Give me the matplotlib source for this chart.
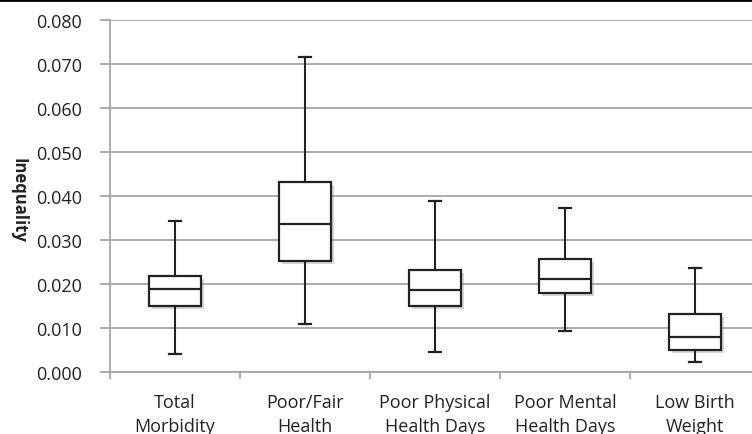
import matplotlib
matplotlib.use("Agg")
import matplotlib.pyplot as plt
import matplotlib.patheffects as pe
from matplotlib.lines import Line2D

# Values
categories = ["Total\nMorbidity", "Poor/Fair\nHealth", "Poor Physical\nHealth Days",
              "Poor Mental\nHealth Days", "Low Birth\nWeight"]
whisker_low = [0.0041, 0.0110, 0.0047, 0.0094, 0.0023]
q1 = [0.0151, 0.0253, 0.0151, 0.0180, 0.0051]
median = [0.0189, 0.0336, 0.0186, 0.0211, 0.0080]
q3 = [0.0218, 0.0432, 0.0233, 0.0258, 0.0132]
whisker_high = [0.0345, 0.0717, 0.0389, 0.0373, 0.0238]
yticks = [0.0, 0.01, 0.02, 0.03, 0.04, 0.05, 0.06, 0.07, 0.08]

plt.rcParams['font.family'] = ['Open Sans', 'DejaVu Sans']

fig = plt.figure(figsize=(7.52, 4.35), dpi=100)
ax = fig.add_axes([110 / 752, 61.7 / 435, 650 / 752, 352 / 435])

stats = []
for lo, a, m, b, hi in zip(whisker_low, q1, median, q3, whisker_high):
    stats.append({'whislo': lo, 'q1': a, 'med': m, 'q3': b, 'whishi': hi, 'fliers': []})

dark = '#222222'
art = ax.bxp(stats, positions=range(1, len(stats) + 1), widths=0.4, capwidths=0.095,
             patch_artist=True, showfliers=False,
             boxprops=dict(facecolor='white', edgecolor=dark, linewidth=1.6),
             medianprops=dict(color=dark, linewidth=1.6),
             whiskerprops=dict(color=dark, linewidth=1.5),
             capprops=dict(color=dark, linewidth=1.6))
for box in art['boxes']:
    box.set_path_effects([pe.SimplePatchShadow(offset=(2, -2), shadow_rgbFace='#888888', alpha=0.35),
                          pe.Normal()])
    box.set_zorder(3)
for key in ('medians', 'whiskers', 'caps'):
    for ln in art[key]:
        ln.set_zorder(4)

grid_c = '#a6a6a6'
ax.set_xlim(0.5, 5.5)
ax.set_ylim(0, 0.08)
ax.set_yticks(yticks)
ax.set_yticklabels([f"{v:.3f}" for v in yticks], fontsize=13, color='#222222')
ax.yaxis.grid(True, color=grid_c, linewidth=1.3)
ax.set_axisbelow(True)

ax.set_xticks([i + 0.5 for i in range(0, 6)], minor=False)
ax.set_xticklabels([])
ax.tick_params(axis='x', length=5, width=1.3, color=grid_c, direction='out')
ax.tick_params(axis='y', length=7, width=1.3, color=grid_c, pad=13)
for i, lab in enumerate(categories):
    ax.text(i + 1, -0.0047, lab, ha='center', va='top', fontsize=13, color='#222222',
            linespacing=1.45)

for s in ('top', 'right'):
    ax.spines[s].set_visible(False)
for s in ('left', 'bottom'):
    ax.spines[s].set_color(grid_c)
    ax.spines[s].set_linewidth(1.3)

fig.text(18 / 752, 1 - 200 / 435, "Inequality", rotation=270, ha='center', va='center',
         fontsize=12, fontweight='bold', color='#222222')

# thin black border line at the very top of the image
fig.add_artist(Line2D([0, 1], [0.998, 0.998], transform=fig.transFigure, color='black', linewidth=2))

fig.savefig("out.png", dpi=100)
